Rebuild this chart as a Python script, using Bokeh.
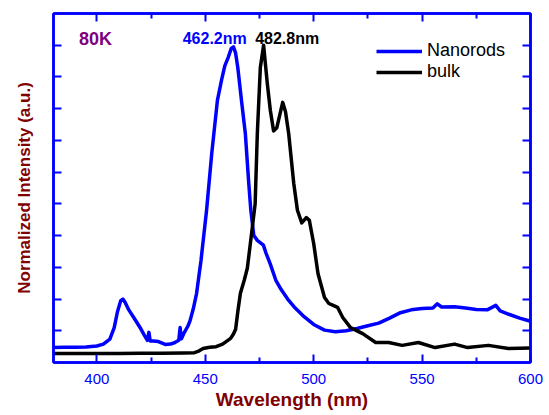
from bokeh.plotting import figure
from bokeh.models import Range1d, LinearAxis, FixedTicker, Label, CustomJSTickFormatter
from bokeh.embed import file_html
from bokeh.resources import INLINE

# ---- data ----
wl_nanorods = [380, 385, 390, 395, 400, 403, 406, 408, 409.5, 411, 412, 413, 414.8, 417,
               420.2, 422, 423.3, 424, 424.6, 426, 428.4, 431.5, 434, 436, 437.8, 438.4,
               439, 440, 442, 443, 444.5, 446, 448, 450.6, 453, 455.6, 457.5, 459, 460.6,
               462, 463, 464, 465, 466.8, 468.5, 470, 471, 472.4, 474, 476.8, 478, 480,
               482.5, 485, 488, 491, 495, 500, 505, 510, 515, 520, 525, 530, 535, 540,
               545, 550, 555, 557, 559, 565, 570, 575, 580, 584, 586, 590, 595, 600]
int_nanorods = [0.047, 0.048, 0.048, 0.049, 0.052, 0.058, 0.074, 0.11, 0.16, 0.195, 0.2,
                0.19, 0.165, 0.142, 0.107, 0.085, 0.07, 0.095, 0.068, 0.068, 0.066, 0.057,
                0.058, 0.063, 0.07, 0.11, 0.075, 0.09, 0.115, 0.132, 0.17, 0.218, 0.32,
                0.48, 0.66, 0.826, 0.89, 0.935, 0.962, 0.99, 0.995, 0.975, 0.93, 0.82,
                0.72, 0.57, 0.48, 0.40, 0.385, 0.37, 0.345, 0.31, 0.26, 0.23, 0.2, 0.175,
                0.148, 0.12, 0.102, 0.097, 0.1, 0.107, 0.116, 0.124, 0.14, 0.157, 0.166,
                0.17, 0.172, 0.185, 0.175, 0.176, 0.172, 0.167, 0.166, 0.18, 0.163, 0.152,
                0.14, 0.13]

wl_bulk = [380, 390, 400, 410, 420, 430, 440, 445, 447, 449, 452, 455, 458, 461.7, 463,
           464, 465, 466.2, 468, 469.4, 471.7, 473, 474, 475.4, 476.9, 478.6, 480, 481.5,
           483, 485.7, 487, 488.5, 490.8, 492.5, 494.5, 496.6, 498, 500, 502, 505, 507,
           509, 511, 513.4, 517, 522.6, 528.6, 534.6, 540.8, 548.3, 556, 565, 571, 580.6,
           589.8, 600]
int_bulk = [0.028, 0.028, 0.028, 0.028, 0.029, 0.029, 0.03, 0.031, 0.036, 0.044, 0.048,
            0.05, 0.058, 0.076, 0.09, 0.105, 0.16, 0.218, 0.26, 0.297, 0.426, 0.5, 0.72,
            0.93, 1.0, 0.88, 0.795, 0.73, 0.74, 0.82, 0.79, 0.72, 0.565, 0.48, 0.44,
            0.457, 0.448, 0.375, 0.28, 0.205, 0.186, 0.18, 0.174, 0.142, 0.11, 0.091,
            0.063, 0.063, 0.054, 0.063, 0.047, 0.058, 0.047, 0.054, 0.044, 0.046]

series_names = ["Nanorods", "bulk"]
x_major_ticks = [400, 450, 500, 550, 600]
x_minor_ticks = [425, 475, 525, 575]
y_ticks = [0.1, 0.2, 0.3, 0.4, 0.5, 0.6, 0.7, 0.8, 0.9, 1.0]
annot_texts = ["80K", "462.2nm", "482.8nm"]
annot_x = [391.8, 439.6, 473.0]
annot_y = [1.02, 1.02, 1.02]

BLUE = "#0000FF"
DARKRED = "#800000"
FONT = "Liberation Sans"

p = figure(width=549, height=415, output_backend="svg", toolbar_location=None,
           x_range=Range1d(380, 600), y_range=Range1d(0, 1.1),
           min_border_left=53, min_border_right=19, min_border_top=13,
           min_border_bottom=53)
p.grid.visible = False
p.outline_line_color = BLUE
p.outline_line_width = 2.5
p.outline_line_alpha = 1.0
p.background_fill_color = "white"
p.border_fill_color = "white"

p.line(wl_nanorods, int_nanorods, color=BLUE, line_width=3.5, line_join="round",
       legend_label=series_names[0])
p.line(wl_bulk, int_bulk, color="black", line_width=3.5, line_join="round",
       legend_label=series_names[1])


def style(ax, ticker, show_labels):
    ax.ticker = ticker
    ax.axis_line_color = BLUE
    ax.axis_line_width = 2.5
    ax.major_tick_line_color = BLUE
    ax.major_tick_line_width = 2
    ax.major_tick_in = 8
    ax.major_tick_out = 0
    ax.minor_tick_line_color = BLUE
    ax.minor_tick_line_width = 2
    ax.minor_tick_in = 5
    ax.minor_tick_out = 0
    ax.major_label_text_color = BLUE
    ax.major_label_text_font = FONT
    ax.major_label_text_font_size = "15px"
    if show_labels:
        ax.major_label_standoff = 11
    else:
        ax.formatter = CustomJSTickFormatter(code="return ''")
        ax.major_label_standoff = 0


xt = FixedTicker(ticks=x_major_ticks, minor_ticks=x_minor_ticks)
yt = FixedTicker(ticks=y_ticks, minor_ticks=[])

xb = p.xaxis[0]
style(xb, xt, True)
xb.axis_label = "Wavelength (nm)"
xb.axis_label_text_font = FONT
xb.axis_label_text_font_style = "bold"
xb.axis_label_text_font_size = "19px"
xb.axis_label_text_color = DARKRED
xb.axis_label_standoff = 2

yl = p.yaxis[0]
style(yl, yt, False)
yl.axis_label = "Normalized Intensity (a.u.)"
yl.axis_label_text_font = FONT
yl.axis_label_text_font_style = "bold"
yl.axis_label_text_font_size = "17px"
yl.axis_label_text_color = DARKRED
yl.axis_label_standoff = 20

xtop = LinearAxis()
style(xtop, FixedTicker(ticks=x_major_ticks, minor_ticks=x_minor_ticks), False)
p.add_layout(xtop, "above")

yr = LinearAxis()
style(yr, FixedTicker(ticks=y_ticks, minor_ticks=[]), False)
p.add_layout(yr, "right")

colors = ["#800080", BLUE, "black"]
sizes = ["18px", "16px", "16px"]
for t, x, y, c, s in zip(annot_texts, annot_x, annot_y, colors, sizes):
    p.add_layout(Label(x=x, y=y, text=t, text_color=c, text_font=FONT,
                       text_font_style="bold", text_font_size=s,
                       text_baseline="middle", text_align="left"))

lg = p.legend[0]
lg.location = (323, 280)
lg.padding = 0
lg.margin = 0
lg.spacing = 0
lg.glyph_width = 46
lg.glyph_height = 20
lg.label_height = 20
lg.label_standoff = 5
lg.label_text_font = FONT
lg.label_text_font_size = "18px"
lg.label_text_color = "black"
lg.background_fill_alpha = 0
lg.border_line_color = None

open("out.html", "w").write(file_html(p, INLINE))
